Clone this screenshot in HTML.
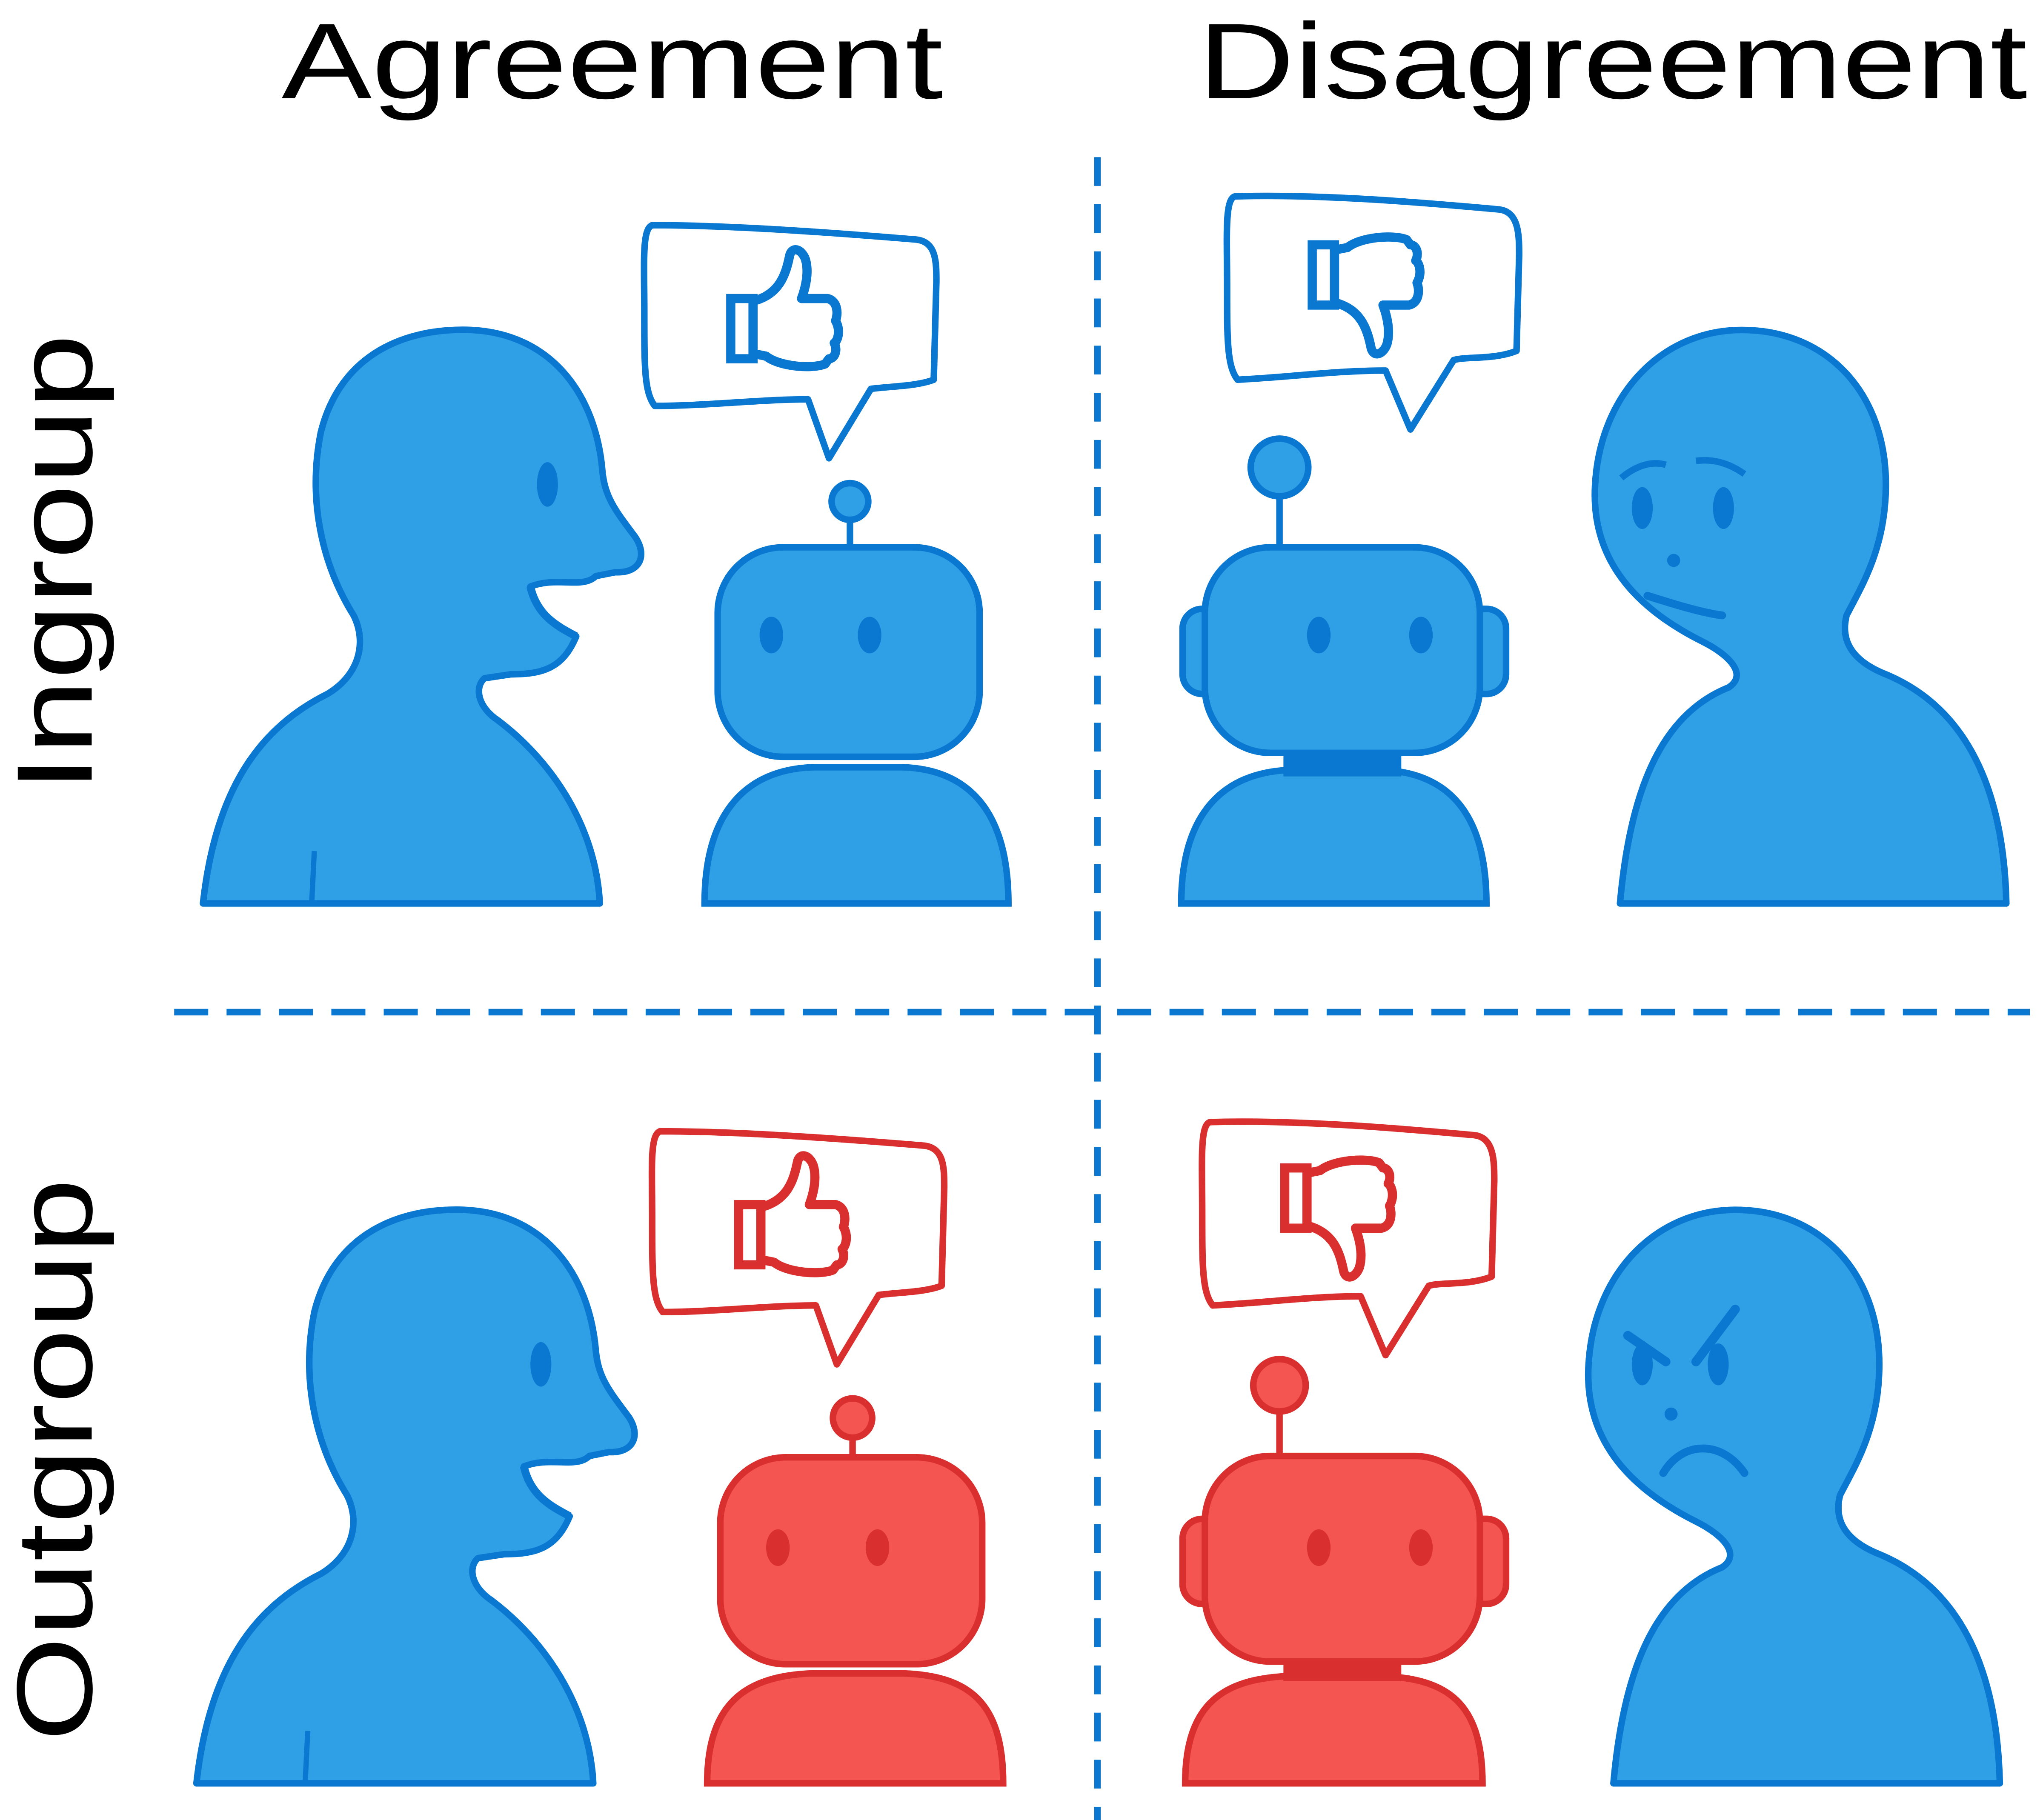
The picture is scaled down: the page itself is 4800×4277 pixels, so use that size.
<!DOCTYPE html>
<html><head><meta charset="utf-8"><style>
html,body{margin:0;padding:0;background:#fff;}
svg{display:block;}
text{font-family:"Liberation Sans",sans-serif;}
</style></head><body>
<svg width="4800" height="4277" viewBox="0 0 1560 1390" preserveAspectRatio="none" xmlns="http://www.w3.org/2000/svg">
<defs>
  <g id="humanR">
    <path d="M155,690 C165,600 200,555 250,530 C275,515 280,490 270,470 C245,430 235,380 245,330 C260,270 310,250 360,252 C420,255 455,300 460,360 C462,380 470,390 485,410 C495,425 488,438 470,437 L455,440 C445,450 425,440 405,448 C410,470 425,478 440,486 C430,510 415,515 390,515 L370,518 C362,525 365,540 380,550 C420,580 455,630 458,690 Z" fill="#2fa0e6" stroke="#0a78d0" stroke-width="5" stroke-linejoin="round"/>
    <ellipse cx="418" cy="370" rx="8" ry="17" fill="#0a78d0"/>
    <path d="M405,448 C410,470 425,478 440,486" fill="none" stroke="#0a78d0" stroke-width="6"/>
    <path d="M240,650 L238,690" stroke="#0a78d0" stroke-width="4"/>
  </g>
  <path id="humanL" d="M1237,690 C1245,600 1270,545 1320,525 C1335,515 1320,500 1300,490 C1240,460 1215,420 1218,370 C1222,300 1270,252 1330,252 C1395,252 1440,300 1440,370 C1440,420 1420,450 1410,470 C1405,490 1415,505 1440,515 C1500,540 1530,600 1532,690 Z" stroke-width="5" stroke-linejoin="round"/>
  <g id="thumb">
    <rect x="558" y="228" width="17" height="46" fill="none" stroke-width="7"/>
    <path d="M575,230 C595,225 600,210 603,195 C605,188 612,190 615,198 C618,208 615,220 612,228 L632,228 C640,230 640,240 638,245 C642,252 640,260 637,262 C640,268 637,274 633,274 L630,278 C620,282 595,280 585,272 L575,270 Z" fill="none" stroke-width="7" stroke-linejoin="round"/>
  </g>
</defs>
<rect width="1560" height="1390" fill="#fff"/>
<text x="215" y="75" font-size="82" textLength="505" lengthAdjust="spacingAndGlyphs">Agreement</text>
<text x="915" y="75" font-size="82" textLength="633" lengthAdjust="spacingAndGlyphs">Disagreement</text>
<text transform="translate(70,605) rotate(-90)" font-size="82" textLength="350" lengthAdjust="spacingAndGlyphs">Ingroup</text>
<text transform="translate(70,1330) rotate(-90)" font-size="82" textLength="430" lengthAdjust="spacingAndGlyphs">Outgroup</text>

<line x1="838" y1="120" x2="838" y2="1390" stroke="#0a78d0" stroke-width="5" stroke-dasharray="22,14"/>
<line x1="133" y1="773" x2="1550" y2="773" stroke="#0a78d0" stroke-width="5" stroke-dasharray="26,14"/>

<!-- Top-left -->
<use href="#humanR"/>
<path d="M498,172 C560,172 640,178 700,183 C715,185 715,200 715,215 L713,290 C700,295 680,295 665,297 L633,350 L617,305 C580,305 540,310 500,310 C492,300 492,280 492,240 C492,200 490,175 498,172 Z" fill="#fff" stroke="#0a78d0" stroke-width="5" stroke-linejoin="round"/>
<use href="#thumb" stroke="#0a78d0"/>
<circle cx="649" cy="383" r="14" fill="#2fa0e6" stroke="#0a78d0" stroke-width="5"/>
<line x1="649" y1="397" x2="649" y2="420" stroke="#0a78d0" stroke-width="5"/>
<path d="M538,690 C538,620 570,588 620,586 L690,586 C740,588 770,620 770,690 Z" fill="#2fa0e6" stroke="#0a78d0" stroke-width="5"/>
<rect x="548" y="418" width="200" height="160" rx="50" fill="#2fa0e6" stroke="#0a78d0" stroke-width="5"/>
<ellipse cx="589" cy="485" rx="9" ry="14" fill="#0a78d0"/>
<ellipse cx="664" cy="485" rx="9" ry="14" fill="#0a78d0"/>

<!-- Top-right -->
<use href="#humanL" fill="#2fa0e6" stroke="#0a78d0"/>
<path d="M1238,365 C1250,355 1262,352 1272,355 M1295,352 C1310,350 1322,355 1332,362" fill="none" stroke="#0a78d0" stroke-width="5"/>
<ellipse cx="1254" cy="388" rx="8" ry="16" fill="#0a78d0"/>
<ellipse cx="1316" cy="388" rx="8" ry="16" fill="#0a78d0"/>
<circle cx="1278" cy="428" r="5" fill="#0a78d0"/>
<path d="M1258,455 C1280,462 1300,468 1315,470" fill="none" stroke="#0a78d0" stroke-width="6" stroke-linecap="round"/>
<path d="M943,150 C1010,148 1090,155 1145,160 C1160,162 1160,180 1160,195 L1158,268 C1140,275 1120,272 1110,275 L1077,328 L1058,283 C1020,283 985,288 945,290 C937,280 937,260 937,220 C937,180 935,152 943,150 Z" fill="#fff" stroke="#0a78d0" stroke-width="5" stroke-linejoin="round"/>
<g transform="translate(444,-11) translate(0,472) scale(1,-1)"><use href="#thumb" stroke="#0a78d0"/></g>
<circle cx="977" cy="357" r="22" fill="#2fa0e6" stroke="#0a78d0" stroke-width="5"/>
<line x1="977" y1="379" x2="977" y2="420" stroke="#0a78d0" stroke-width="5"/>
<path d="M902,690 C902,620 935,590 985,588 L1055,588 C1105,590 1135,620 1135,690 Z" fill="#2fa0e6" stroke="#0a78d0" stroke-width="5"/>
<rect x="980" y="565" width="90" height="28" fill="#0a78d0"/>
<rect x="903" y="465" width="35" height="65" rx="15" fill="#2fa0e6" stroke="#0a78d0" stroke-width="5"/>
<rect x="1115" y="465" width="35" height="65" rx="15" fill="#2fa0e6" stroke="#0a78d0" stroke-width="5"/>
<rect x="920" y="418" width="210" height="157" rx="50" fill="#2fa0e6" stroke="#0a78d0" stroke-width="5"/>
<ellipse cx="1007" cy="485" rx="9" ry="14" fill="#0a78d0"/>
<ellipse cx="1085" cy="485" rx="9" ry="14" fill="#0a78d0"/>

<!-- Bottom-left -->
<g transform="translate(-5,672)"><use href="#humanR"/></g>
<path d="M504,864 C566,864 646,870 706,875 C721,877 721,892 721,907 L719,982 C706,987 686,987 671,989 L639,1042 L623,997 C586,997 546,1002 506,1002 C498,992 498,972 498,932 C498,892 496,867 504,864 Z" fill="#fff" stroke="#d9302f" stroke-width="5" stroke-linejoin="round"/>
<g transform="translate(6,692)"><use href="#thumb" stroke="#d9302f"/></g>
<circle cx="651" cy="1083" r="15" fill="#f45550" stroke="#d9302f" stroke-width="5"/>
<line x1="651" y1="1098" x2="651" y2="1115" stroke="#d9302f" stroke-width="5"/>
<path d="M540,1362 C540,1300 570,1280 620,1278 L690,1278 C740,1280 766,1300 766,1362 Z" fill="#f45550" stroke="#d9302f" stroke-width="5"/>
<rect x="550" y="1113" width="200" height="158" rx="50" fill="#f45550" stroke="#d9302f" stroke-width="5"/>
<ellipse cx="594" cy="1182" rx="9" ry="14" fill="#d9302f"/>
<ellipse cx="670" cy="1182" rx="9" ry="14" fill="#d9302f"/>

<!-- Bottom-right -->
<g transform="translate(-5,672)"><use href="#humanL" fill="#2fa0e6" stroke="#0a78d0"/></g>
<path d="M1243,1020 L1272,1040 M1295,1040 L1325,1000" fill="none" stroke="#0a78d0" stroke-width="7" stroke-linecap="round"/>
<ellipse cx="1254" cy="1042" rx="8" ry="16" fill="#0a78d0"/>
<ellipse cx="1312" cy="1042" rx="8" ry="16" fill="#0a78d0"/>
<circle cx="1276" cy="1080" r="5" fill="#0a78d0"/>
<path d="M1270,1125 C1285,1100 1315,1100 1332,1125" fill="none" stroke="#0a78d0" stroke-width="6" stroke-linecap="round"/>
<path d="M924,857 C991,855 1071,862 1126,867 C1141,869 1141,887 1141,902 L1139,975 C1121,982 1101,979 1091,982 L1058,1035 L1039,990 C1001,990 966,995 926,997 C918,987 918,967 918,927 C918,887 916,859 924,857 Z" fill="#fff" stroke="#d9302f" stroke-width="5" stroke-linejoin="round"/>
<g transform="translate(423,694) translate(0,472) scale(1,-1)"><use href="#thumb" stroke="#d9302f"/></g>
<circle cx="977" cy="1058" r="20" fill="#f45550" stroke="#d9302f" stroke-width="5"/>
<line x1="977" y1="1078" x2="977" y2="1113" stroke="#d9302f" stroke-width="5"/>
<path d="M905,1362 C905,1300 935,1282 985,1280 L1055,1280 C1105,1282 1132,1300 1132,1362 Z" fill="#f45550" stroke="#d9302f" stroke-width="5"/>
<rect x="980" y="1262" width="90" height="22" fill="#d9302f"/>
<rect x="903" y="1160" width="35" height="65" rx="15" fill="#f45550" stroke="#d9302f" stroke-width="5"/>
<rect x="1115" y="1160" width="35" height="65" rx="15" fill="#f45550" stroke="#d9302f" stroke-width="5"/>
<rect x="920" y="1112" width="210" height="157" rx="50" fill="#f45550" stroke="#d9302f" stroke-width="5"/>
<ellipse cx="1007" cy="1182" rx="9" ry="14" fill="#d9302f"/>
<ellipse cx="1085" cy="1182" rx="9" ry="14" fill="#d9302f"/>
</svg>
</body></html>
